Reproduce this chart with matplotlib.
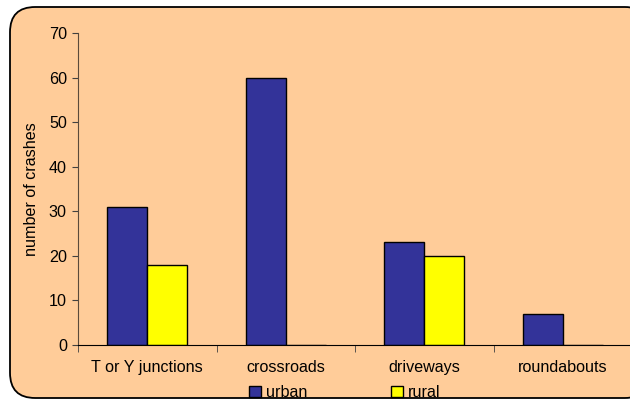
import matplotlib
matplotlib.use("Agg")
import matplotlib.pyplot as plt
from matplotlib.patches import FancyBboxPatch
import numpy as np

# crash counts by location type
categories = ['T or Y junctions', 'crossroads', 'driveways', 'roundabouts']
urban = [31, 60, 23, 7]
rural = [18, 0, 20, 0]

plt.rcParams['font.family'] = ['Liberation Sans', 'DejaVu Sans']
plt.rcParams['font.size'] = 11.6

bg = '#FFCC99'
fig = plt.figure(figsize=(6.3, 4.0), dpi=100)
fig.patch.set_facecolor('white')

# rounded chart border
border = FancyBboxPatch((10 / 630, 2 / 400), 640 / 630, 391 / 400,
                        boxstyle='round,pad=0,rounding_size=0.04',
                        transform=fig.transFigure, facecolor=bg,
                        edgecolor='black', linewidth=1.3, zorder=-5,
                        mutation_aspect=630 / 400)
fig.patches.append(border)

ax = fig.add_axes([78 / 630, 55 / 400, 554 / 630, 312 / 400])
ax.set_facecolor(bg)

x = np.arange(len(categories))
w = 0.29
ax.bar(x - w / 2, urban, w, color='#333399', edgecolor='black', linewidth=1, label='urban')
ax.bar(x + w / 2, rural, w, color='#FFFF00', edgecolor='black', linewidth=1, label='rural')

ax.set_xlim(-0.5, len(categories) - 0.5)
ax.set_ylim(0, 70)
ax.set_yticks(range(0, 71, 10))
ax.set_xticks(x)
ax.set_xticklabels(categories)
ax.tick_params(axis='x', length=0, pad=11)
ax.set_xticks(np.arange(-0.5, len(categories)), minor=True)
ax.tick_params(axis='x', which='minor', length=5, direction='out', color='#404040')
ax.tick_params(axis='y', length=4, direction='out', color='#404040', pad=4)

for s in ['top', 'right']:
    ax.spines[s].set_visible(False)
ax.spines['left'].set_color('#5a4a3a')
ax.spines['bottom'].set_color('black')

ax.set_ylabel('number of crashes', labelpad=7)

ax.legend(loc='center', bbox_to_anchor=(0.482, -0.152), ncol=2, frameon=False,
          handlelength=0.7, handleheight=0.7, columnspacing=5.2, borderpad=0,
          handletextpad=0.35)

plt.savefig('out.png', dpi=100, facecolor='white')
